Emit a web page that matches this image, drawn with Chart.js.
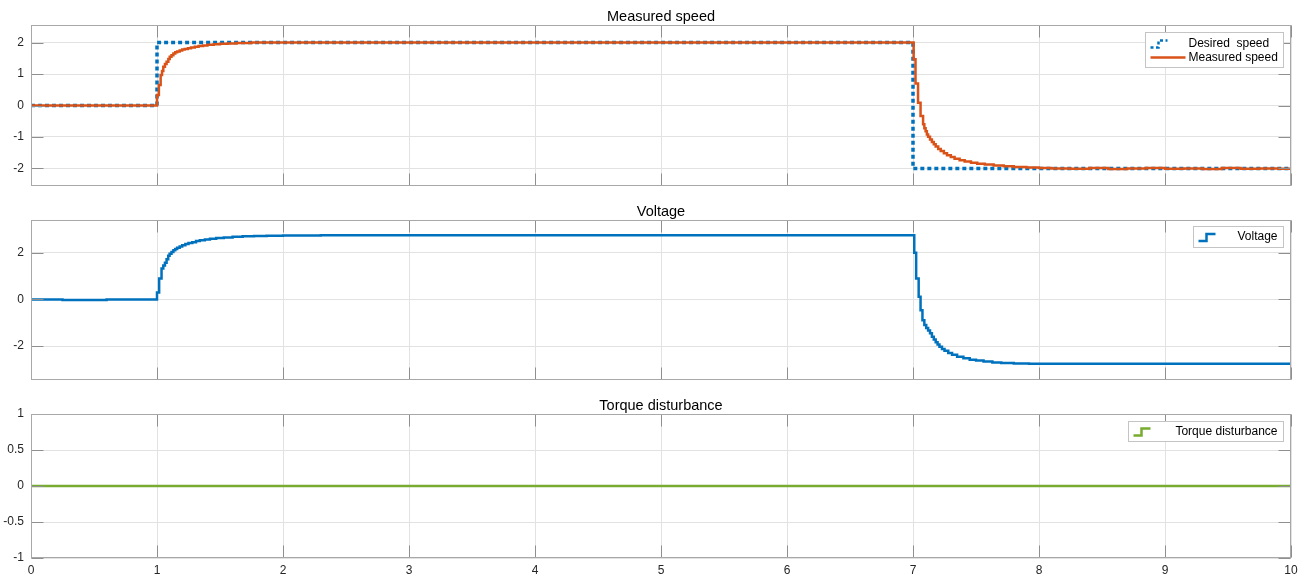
<!DOCTYPE html>
<html>
<head>
<meta charset="utf-8">
<script src="https://cdn.jsdelivr.net/npm/chart.js@4.4.1/dist/chart.umd.min.js"></script>
<style>
html, body { margin: 0; padding: 0; background: #fff; }
#wrap { position: relative; width: 1307px; height: 576px; }
#wrap canvas { position: absolute; left: 0; }
</style>
</head>
<body>
<div id="wrap">
  <canvas id="speed" width="1307" height="192" style="top:0px"></canvas>
  <canvas id="volt" width="1307" height="195" style="top:192px"></canvas>
  <canvas id="torque" width="1307" height="189" style="top:387px"></canvas>
</div>
<script>
// ---- data ----
var xTicks = [0, 1, 2, 3, 4, 5, 6, 7, 8, 9, 10];

var desiredTime = [0, 1, 7, 10];
var desiredSpeed = [0, 2, -2, -2];

var speedTime = [0, 1.0, 1.015, 1.029, 1.04, 1.05, 1.063, 1.076, 1.09, 1.101, 1.115, 1.13, 1.145, 1.16, 1.18,
  1.2, 1.22, 1.245, 1.27, 1.3, 1.33, 1.366, 1.4, 1.45, 1.5, 1.56, 1.63, 1.75,
  7.005, 7.02, 7.04, 7.06, 7.08, 7.09, 7.1, 7.11, 7.12, 7.135, 7.15, 7.165, 7.18, 7.2, 7.22, 7.245, 7.27, 7.3,
  7.33, 7.37, 7.41, 7.46, 7.51, 7.57, 7.64, 7.72, 7.8, 7.9, 8.0, 8.1,
  8.25, 8.4, 8.55, 8.7, 8.85, 9.0, 9.15, 9.3, 9.45, 9.6, 9.75, 9.9, 10];
var speedValues = [0, 0.33, 0.65, 0.97, 1.1, 1.23, 1.32, 1.39, 1.48, 1.55, 1.6, 1.65, 1.69, 1.72, 1.75,
  1.78, 1.8, 1.82, 1.845, 1.87, 1.89, 1.91, 1.93, 1.945, 1.96, 1.975, 1.99, 2.0,
  1.47, 0.7, 0.09, -0.33, -0.6, -0.72, -0.82, -0.92, -0.99, -1.08, -1.16, -1.23, -1.3, -1.38, -1.45, -1.52, -1.58, -1.64,
  -1.69, -1.74, -1.78, -1.82, -1.85, -1.88, -1.91, -1.935, -1.955, -1.97, -1.985, -2.0,
  -2.01, -1.99, -2.02, -2.0, -1.99, -2.01, -2.0, -2.02, -1.99, -2.01, -2.0, -2.01, -2.0];

var voltTime = [0, 0.25, 0.6, 1.0, 1.017, 1.036, 1.05, 1.063, 1.076, 1.089, 1.1, 1.115, 1.13, 1.145, 1.16, 1.18,
  1.2, 1.225, 1.25, 1.28, 1.31, 1.34, 1.38, 1.42, 1.47, 1.53, 1.6, 1.68, 1.77, 1.87, 2.0, 2.3,
  7.01, 7.025, 7.045, 7.06, 7.075, 7.09, 7.105, 7.12, 7.135, 7.15, 7.165, 7.18, 7.195, 7.21, 7.23, 7.25, 7.28,
  7.31, 7.35, 7.4, 7.45, 7.5, 7.56, 7.63, 7.7, 7.8, 7.92, 10];
var voltValues = [0, -0.02, 0, 0.3, 0.9, 1.32, 1.45, 1.57, 1.72, 1.87, 1.95, 2.03, 2.1, 2.16, 2.21, 2.27,
  2.32, 2.37, 2.41, 2.45, 2.5, 2.53, 2.57, 2.6, 2.63, 2.655, 2.68, 2.7, 2.72, 2.73, 2.74, 2.75,
  2.0, 0.9, 0.11, -0.46, -0.89, -1.1, -1.22, -1.33, -1.45, -1.6, -1.72, -1.83, -1.93, -2.03, -2.12, -2.2, -2.29,
  -2.37, -2.45, -2.52, -2.58, -2.62, -2.66, -2.7, -2.72, -2.74, -2.75, -2.75];

var torqueTime = [0, 10];
var torqueValues = [0, 0];

var speedTicks = [-2, -1, 0, 1, 2];
var voltTicks = [-2, 0, 2];
var torqueTicks = [-1, -0.5, 0, 0.5, 1];

var BLUE = "#0072BD", ORANGE = "#D95319", GREEN = "#77AC30";
var FONT = "'Liberation Sans', Arial, Helvetica, sans-serif";

function pts(t, v) {
  return t.map(function(x, i) { return { x: x, y: v[i] }; });
}

// MATLAB style frame, inward ticks, legend and title
var matlabFrame = {
  id: "matlabFrame",
  afterDatasetsDraw: function(chart, args, o) {
    var ctx = chart.ctx, a = chart.chartArea;
    var xs = chart.scales.x, ys = chart.scales.y;
    var L = Math.round(a.left) + 0.5, R = Math.round(a.right) - 0.5;
    var T = Math.round(a.top) + 0.5, B = Math.round(a.bottom) - 0.5;
    ctx.save();
    ctx.lineWidth = 1;
    ctx.strokeStyle = "#8f8f8f";
    ctx.beginPath();
    xs.ticks.forEach(function(t) {
      var px = Math.round(xs.getPixelForValue(t.value)) + 0.5;
      ctx.moveTo(px, B); ctx.lineTo(px, B - 12);
      ctx.moveTo(px, T); ctx.lineTo(px, T + 12);
    });
    ys.ticks.forEach(function(t) {
      var py = Math.round(ys.getPixelForValue(t.value)) + 0.5;
      ctx.moveTo(L, py); ctx.lineTo(L + 12, py);
      ctx.moveTo(R, py); ctx.lineTo(R - 12, py);
    });
    ctx.stroke();
    ctx.strokeStyle = "#a8a8a8";
    ctx.strokeRect(L, T, R - L, B - T);

    // legend
    var lg = o.legend;
    var bx = Math.round(a.right - 8 - lg.w) + 0.5, by = Math.round(a.top + lg.dy) + 0.5;
    ctx.fillStyle = "#fff";
    ctx.fillRect(bx, by, lg.w, lg.h);
    ctx.strokeStyle = "#c4c4c4";
    ctx.strokeRect(bx, by, lg.w, lg.h);
    ctx.font = "12px " + FONT;
    ctx.textBaseline = "middle";
    lg.items.forEach(function(it, i) {
      var cy = by + lg.rowY[i];
      var sx = bx + 5;
      ctx.strokeStyle = it.color;
      ctx.lineWidth = 2.5;
      ctx.setLineDash(it.dash ? [3, 2.5] : []);
      ctx.beginPath();
      if (it.kind === "line") {
        ctx.moveTo(sx, cy); ctx.lineTo(sx + 35, cy);
      } else {
        ctx.moveTo(sx, cy + 4); ctx.lineTo(sx + 8, cy + 4); ctx.lineTo(sx + 8, cy - 3); ctx.lineTo(sx + 17, cy - 3);
      }
      ctx.stroke();
      ctx.setLineDash([]);
      ctx.fillStyle = "#000";
      if (lg.textLeft) {
        ctx.textAlign = "left";
        ctx.fillText(it.label, bx + lg.textLeft, cy);
      } else {
        ctx.textAlign = "right";
        ctx.fillText(it.label, bx + lg.w - 6, cy);
      }
    });

    // title
    ctx.font = "14.5px " + FONT;
    ctx.fillStyle = "#000";
    ctx.textAlign = "center";
    ctx.textBaseline = "alphabetic";
    ctx.fillText(o.title, (a.left + a.right) / 2, a.top - 4.5);
    ctx.restore();
  }
};

function makePanel(id, datasets, yMin, yMax, yTicks, showX, pad, title, legend) {
  return new Chart(document.getElementById(id), {
    type: "line",
    data: { datasets: datasets },
    plugins: [matlabFrame],
    options: {
      responsive: false,
      animation: false,
      events: [],
      layout: { padding: pad },
      elements: { point: { radius: 0 } },
      plugins: {
        legend: { display: false },
        tooltip: { enabled: false },
        matlabFrame: { title: title, legend: legend }
      },
      scales: {
        x: {
          type: "linear", min: 0, max: 10,
          afterBuildTicks: function(s) { s.ticks = xTicks.map(function(v) { return { value: v }; }); },
          afterFit: function(s) { s.height = showX ? 18 : 0; s.paddingLeft = 0; s.paddingRight = 0; },
          grid: { color: "#e2e2e2", drawTicks: false },
          border: { display: false },
          ticks: { display: showX, padding: 5, color: "#262626", font: { family: FONT, size: 12 }, maxRotation: 0 }
        },
        y: {
          type: "linear", min: yMin, max: yMax,
          afterBuildTicks: function(s) { s.ticks = yTicks.map(function(v) { return { value: v }; }); },
          afterFit: function(s) { s.width = 31; s.paddingTop = 0; s.paddingBottom = 0; },
          grid: { color: "#e2e2e2", drawTicks: false },
          border: { display: false },
          ticks: { padding: 7, color: "#262626", font: { family: FONT, size: 12 },
            callback: function(v) { return String(v); } }
        }
      }
    }
  });
}

makePanel("speed", [
  { data: pts(speedTime, speedValues), stepped: true, borderColor: ORANGE, borderWidth: 2.5, fill: false },
  { data: pts(desiredTime, desiredSpeed), stepped: true, borderColor: BLUE, borderWidth: 3.5,
    borderDash: [4, 3], borderCapStyle: "butt", fill: false }
], -2.56, 2.56, speedTicks, false, { left: 0, right: 16, top: 25, bottom: 6 }, "Measured speed",
  { w: 138, h: 35, dy: 7, textLeft: 43, rowY: [11, 25],
    items: [{ label: "Desired  speed", color: BLUE, kind: "step", dash: true },
            { label: "Measured speed", color: ORANGE, kind: "line" }] });

makePanel("volt", [
  { data: pts(voltTime, voltValues), stepped: true, borderColor: BLUE, borderWidth: 2.5, fill: false }
], -3.45, 3.4, voltTicks, false, { left: 0, right: 16, top: 28, bottom: 7 }, "Voltage",
  { w: 90, h: 21, dy: 6, rowY: [10.5],
    items: [{ label: "Voltage", color: BLUE, kind: "step" }] });

makePanel("torque", [
  { data: pts(torqueTime, torqueValues), stepped: true, borderColor: GREEN, borderWidth: 2.5, fill: false }
], -1, 1, torqueTicks, true, { left: 0, right: 16, top: 27, bottom: 0 }, "Torque disturbance",
  { w: 155, h: 20, dy: 7, rowY: [10],
    items: [{ label: "Torque disturbance", color: GREEN, kind: "step" }] });
</script>
</body>
</html>
